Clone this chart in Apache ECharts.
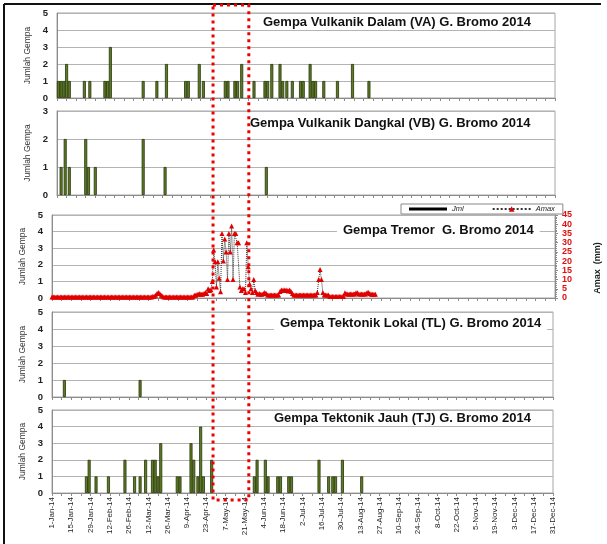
<!DOCTYPE html>
<html><head><meta charset="utf-8">
<script src="https://cdn.jsdelivr.net/npm/echarts@6/dist/echarts.min.js"></script>
<style>html,body{margin:0;padding:0;background:#fff}#c{width:607px;height:544px}</style>
</head><body><div id="c"></div>
<script>
// ---- tick labels (every 14 days, day index 0 = 1-Jan-14) ----
const tickLabels = ['1-Jan-14','15-Jan-14','29-Jan-14','12-Feb-14','26-Feb-14','12-Mar-14','26-Mar-14','9-Apr-14','23-Apr-14','7-May-14','21-May-14','4-Jun-14','18-Jun-14','2-Jul-14','16-Jul-14','30-Jul-14','13-Aug-14','27-Aug-14','10-Sep-14','24-Sep-14','8-Oct-14','22-Oct-14','5-Nov-14','19-Nov-14','3-Dec-14','17-Dec-14','31-Dec-14'];

// ---- Gempa Vulkanik Dalam (VA) ----
const vaDays   = [1,3,5,7,9,20,24,35,37,39,63,73,80,94,96,104,107,123,125,130,132,135,144,152,154,157,163,165,168,172,178,180,185,187,189,195,205,216,228];
const vaCounts = [1,1,1,2,1,1,1,1,1,3,1,1,2,1,1,2,1,1,1,1,1,2,1,1,1,2,2,1,1,1,1,1,2,1,1,1,1,2,1];

// ---- Gempa Vulkanik Dangkal (VB) ----
const vbDays   = [3,6,9,21,23,28,63,79,153];
const vbCounts = [1,2,1,2,1,1,2,1,1];

// ---- Gempa Tektonik Lokal (TL) ----
const tlDays   = [9,64];
const tlCounts = [1,1];

// ---- Gempa Tektonik Jauh (TJ) ----
const tjDays   = [25,27,32,41,53,60,64,68,73,75,77,79,91,93,101,103,106,108,110,116,147,149,155,157,164,166,172,174,194,201,204,206,211,225];
const tjCounts = [1,2,1,1,2,1,1,2,2,2,1,3,1,1,3,2,1,4,1,2,1,2,2,1,1,1,1,1,2,1,1,1,2,1];

// ---- Gempa Tremor: Amax (mm), daily from 1-Jan ----
const amax = [
 0.5,0.5,0.5,0.5,0.5,0.5,0.5,0.5,0.5,0.5,
 0.5,0.5,0.5,0.5,0.5,0.5,0.5,0.5,0.5,0.5,
 0.5,0.5,0.5,0.5,0.5,0.5,0.5,0.5,0.5,0.5,
 0.5,0.5,0.5,0.5,0.5,0.5,0.5,0.5,0.5,0.5,
 0.5,0.5,0.5,0.5,0.5,0.5,0.5,0.5,0.5,0.5,
 0.5,0.5,0.5,0.5,0.5,0.5,0.5,0.5,0.5,0.5,
 0.5,0.5,0.5,0.5,0.5,0.5,0.5,0.5,0.5,0.5,
 0.5,0.5,0.5,
 1,1,1.5,2.5,3,2.5,1.5,1,
 0.5,0.5,0.5,0.5,0.5,0.5,0.5,0.5,0.5,0.5,0.5,
 0.5,0.5,0.5,0.5,0.5,0.5,0.5,0.5,0.5,0.5,0.5,
 1.5,1.5,2,2,2.5,2,2,2.5,3,2.5,
 5,4,4.5,9,
 26,19.7,6,19.7,10.7,3.4,35,20,32,25,10,35,25,39,10,35,35,30,30,6,4,5,5,3,30,17,7.6,5,3,10,4,3,2,2.5,
 2,2,2.5,3,2.5,
 1.6,1.6,1.6,1.6,1.6,1.6,1.6,1.6,1.6,
 3.5,4.3,4,4.5,4,4.3,3.8,4.3,3.5,2.5,
 1.6,1.6,1.6,1.6,1.6,1.6,1.6,1.6,1.6,1.6,1.6,1.6,1.6,1.6,1.6,1.6,1.6,
 3,10,15.5,10,3,
 1.6,1.6,1.6,1.6,
 0.8,0.8,0.8,0.8,0.8,0.8,0.8,0.8,0.8,0.8,0.8,
 2.9,
 2.2,2.2,2.2,2.2,2.2,2.2,2.2,
 2.9,2.9,
 2.2,2.2,2.2,2.2,2.2,2.2,
 3,3,2.5,
 2,2,2,2
];
// Jml series has no visible points in the figure (legend only)
const jml = [];

const titles = ['Gempa Vulkanik Dalam (VA) G. Bromo 2014','Gempa Vulkanik Dangkal (VB) G. Bromo 2014','Gempa Tremor  G. Bromo 2014','Gempa Tektonik Lokal (TL) G. Bromo 2014','Gempa Tektonik Jauh (TJ) G. Bromo 2014'];
const boxDays = [117, 143]; // red dotted highlight period

const FONT = '"Liberation Sans", Arial, sans-serif';
const GRID_C = '#b3b3b3', AXIS_C = '#8c8c8c';
const chart = echarts.init(document.getElementById('c'));

const grids = [
  {left:57, top:13,  width:498, height:85},
  {left:57, top:111, width:498, height:84},
  {left:52, top:215, width:503, height:83},
  {left:52, top:312, width:501, height:85},
  {left:52, top:410, width:501, height:83}
].map(g => Object.assign(g, {show:true, borderColor:'#a6a6a6', borderWidth:1, backgroundColor:'#fff'}));

function xa(i, labels){
  return {type:'value', gridIndex:i, min:0, max:364, interval:14,
    axisLine:{show:true, onZero:false, lineStyle:{color:AXIS_C}},
    axisTick:{show:true, length:3, lineStyle:{color:AXIS_C}},
    minorTick:{show:true, splitNumber:2, length:3, lineStyle:{color:AXIS_C}},
    splitLine:{show:false},
    axisLabel: labels ? {show:true, rotate:90, fontSize:8, color:'#222', fontFamily:FONT, margin:4,
       formatter: v => (v % 14 === 0 ? tickLabels[v/14] : '')} : {show:false}};
}
function ya(i, max){
  return {type:'value', gridIndex:i, min:0, max:max, interval:1,
    name:'Jumlah Gempa', nameLocation:'middle', nameRotate:90, nameGap:25,
    nameTextStyle:{fontSize:8.5, color:'#333', fontFamily:FONT},
    axisLine:{show:true, lineStyle:{color:AXIS_C}}, axisTick:{show:false},
    splitLine:{show:true, lineStyle:{color:GRID_C, width:1}},
    axisLabel:{fontSize:9.5, fontWeight:'bold', color:'#222', fontFamily:FONT, margin:9}};
}
const barStyle = {color:'#5e7d22', borderColor:'#26340c', borderWidth:0.8};
function bars(i, yi, days, counts){
  return {type:'bar', xAxisIndex:i, yAxisIndex:yi, barWidth:3, itemStyle:barStyle,
    data: days.map((d,k)=>[d, counts[k]]), z:3};
}

const rightAxis = {type:'value', gridIndex:2, position:'right', min:0, max:45, interval:5,
  axisLine:{show:true, lineStyle:{color:AXIS_C}},
  axisTick:{show:true, length:3, inside:false, lineStyle:{color:AXIS_C}},
  minorTick:{show:true, splitNumber:5, length:2, lineStyle:{color:AXIS_C}},
  splitLine:{show:false},
  axisLabel:{fontSize:9, fontWeight:'bold', color:'#e01010', fontFamily:FONT, margin:7}};

const titleTops = [15,116,223,316,411];
const titleLefts = [257,244,337,274,268];

const option = {
  animation:false,
  backgroundColor:'#fff',
  textStyle:{fontFamily:FONT},
  grid: grids,
  title: titles.map((t,i)=>({text:t, left:titleLefts[i], top:titleTops[i], padding:[1,6],
     backgroundColor:'#fff', textStyle:{fontSize:13, fontWeight:'bold', color:'#111', fontFamily:FONT}})),
  legend:{data:[{name:'Jml', icon:'path://M0,0H40V3H0Z'}, {name:'Amax'}], left:401, top:204, padding:[1,8], itemGap:28, itemWidth:38, itemHeight:7,
     borderColor:'#888', borderWidth:1, backgroundColor:'#fff',
     textStyle:{fontSize:7.5, color:'#222', fontStyle:'italic', fontFamily:FONT}},
  xAxis:[xa(0,false), xa(1,false), xa(2,false), xa(3,false), xa(4,true)],
  yAxis:[ya(0,5), ya(1,3), ya(2,5), rightAxis, ya(3,5), ya(4,5)],
  series:[
    bars(0,0,vaDays,vaCounts),
    bars(1,1,vbDays,vbCounts),
    {name:'Jml', type:'line', xAxisIndex:2, yAxisIndex:2, data:jml, symbol:'none',
      lineStyle:{color:'#000', width:3}, itemStyle:{color:'#000'}},
    {name:'Amax', type:'line', xAxisIndex:2, yAxisIndex:3, data: amax.map((v,d)=>[d,v]),
      symbol:'triangle', symbolSize:5, itemStyle:{color:'#e00000'},
      lineStyle:{color:'#333', width:1, type:'dotted'}, z:4},
    bars(3,4,tlDays,tlCounts),
    bars(4,5,tjDays,tjCounts)
  ]
};
chart.setOption(option);

const x1 = chart.convertToPixel({xAxisIndex:4}, boxDays[0]);
const x2 = chart.convertToPixel({xAxisIndex:4}, boxDays[1]);
chart.setOption({graphic:[
  {type:'line', shape:{x1:4, y1:4, x2:601, y2:4}, style:{stroke:'#111', lineWidth:2}, z:50},
  {type:'line', shape:{x1:4, y1:4, x2:4, y2:544}, style:{stroke:'#111', lineWidth:2}, z:50},
  {type:'text', x:598, y:268, rotation:Math.PI/2,
    style:{text:'Amax  (mm)', align:'center', verticalAlign:'middle', fill:'#222', font:'bold 9px "Liberation Sans", Arial'}, z:50},
  {type:'rect', shape:{x:x1, y:5, width:x2-x1, height:495},
    style:{fill:null, stroke:'#ee0000', lineWidth:3, lineDash:[3,4]}, z:100}
]});
</script></body></html>
